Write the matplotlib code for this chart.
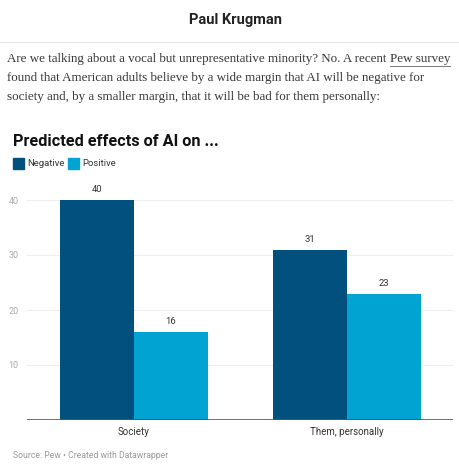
import matplotlib.pyplot as plt
import numpy as np

# data
categories = ['Society', 'Them, personally']
negative = [40, 31]
positive = [16, 23]
yticks = [10, 20, 30, 40]

W, H = 459, 467
fig = plt.figure(figsize=(W / 100, H / 100), dpi=100)
fig.patch.set_facecolor('white')

def fy(px):
    return 1 - px / H

def fx(px):
    return px / W

# header
fig.text(0.514, fy(20), 'Paul Krugman', ha='center', va='center',
         fontsize=10.5, fontweight='bold', family='Roboto', color='#222222')
fig.add_artist(plt.Line2D([0, 1], [fy(42), fy(42)], color='#e6e6e6', lw=1))

# paragraph - size fitted so that line 1 spans x 7..451
serif = 'Liberation Serif'
line1a = 'Are we talking about a vocal but unrepresentative minority? No. A recent '
link = 'Pew survey'
r = fig.canvas.get_renderer()
probe = fig.text(0, 0, line1a + link, fontsize=10, family=serif)
wprobe = probe.get_window_extent(r).width
probe.remove()
psize = 10 * 444 / wprobe
pcol = '#363737'

t1 = fig.text(fx(7), fy(59), line1a, ha='left', va='center', fontsize=psize,
              family=serif, color=pcol)
bb = t1.get_window_extent(r)
t2 = fig.text(bb.x1 / W, fy(59), link, ha='left', va='center', fontsize=psize,
              family=serif, color=pcol)
bb2 = t2.get_window_extent(r)
fig.add_artist(plt.Line2D([bb2.x0 / W, bb2.x1 / W], [fy(66), fy(66)], color='#777777', lw=0.7))
fig.text(fx(7), fy(78), 'found that American adults believe by a wide margin that AI will be negative for',
         ha='left', va='center', fontsize=psize, family=serif, color=pcol)
fig.text(fx(7), fy(97), 'society and, by a smaller margin, that it will be bad for them personally:',
         ha='left', va='center', fontsize=psize, family=serif, color=pcol)

# chart title and legend
fig.text(fx(13), fy(141), 'Predicted effects of AI on ...', ha='left', va='center',
         fontsize=11.7, fontweight='bold', family='Roboto', color='#111111')
c_neg = '#02507d'
c_pos = '#00a3d1'
fig.add_artist(plt.Rectangle((fx(13), fy(169)), fx(11), 11 / H, color=c_neg))
fig.text(fx(27), fy(163.5), 'Negative', ha='left', va='center', fontsize=6.8,
         family='Roboto', color='#333333')
fig.add_artist(plt.Rectangle((fx(68), fy(169)), fx(11), 11 / H, color=c_pos))
fig.text(fx(82), fy(163.5), 'Positive', ha='left', va='center', fontsize=6.8,
         family='Roboto', color='#333333')

# bars
ax = fig.add_axes([fx(27), fy(420), fx(453 - 27), (420 - 189) / H])
x = np.arange(len(categories))
w = 0.348
b1 = ax.bar(x - w / 2, negative, w, color=c_neg, zorder=3)
b2 = ax.bar(x + w / 2, positive, w, color=c_pos, zorder=3)
for bars in (b1, b2):
    for b in bars:
        ax.text(b.get_x() + b.get_width() / 2, b.get_height() + 1.0, f'{b.get_height():g}',
                ha='center', va='bottom', fontsize=6.8, family='Roboto', color='#333333')
ax.set_xlim(-0.502, 1.498)
ax.set_ylim(0, 42)
for s in ax.spines.values():
    s.set_visible(False)
ax.axhline(0, color='#555555', lw=1.2, zorder=4)
for v in yticks:
    ax.axhline(v, color='#eeeeee', lw=0.8, zorder=1)
ax.set_yticks(yticks)
ax.set_yticklabels([str(v) for v in yticks], family='Roboto', fontsize=6.5, color='#aaaaaa')
ax.tick_params(axis='y', length=0, pad=6)
ax.set_xticks(x)
ax.set_xticklabels(categories, family='Roboto', fontsize=7, color='#333333')
ax.tick_params(axis='x', length=0, pad=5)
ax.set_facecolor('none')

fig.text(fx(13), fy(455), 'Source: Pew • Created with Datawrapper', ha='left', va='center',
         fontsize=6.2, family='Roboto', color='#999999')

fig.savefig('out.png', dpi=100)
